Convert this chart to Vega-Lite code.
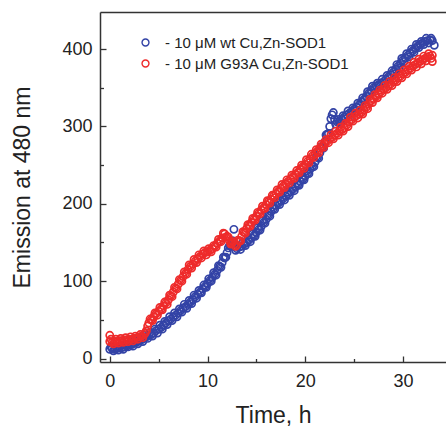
{
  "$schema": "https://vega.github.io/schema/vega-lite/v6.json",
  "autosize": "none",
  "padding": {"left": 100, "top": 12, "right": 0, "bottom": 68},
  "width": 346,
  "height": 350,
  "background": "white",
  "config": {
    "view": {"stroke": null},
    "font": "Liberation Sans",
    "axis": {"domainColor": "#333", "domainWidth": 1.5, "tickColor": "#333", "tickWidth": 1.3, "labelFont": "Liberation Sans", "labelColor": "#222", "titleFont": "Liberation Sans", "titleColor": "#222", "titleFontWeight": "normal", "grid": false}
  },
  "datasets": {
    "pts": [
      {"t":0,"v":12,"s":"wt"},{"t":0.25,"v":13,"s":"wt"},{"t":0.5,"v":12,"s":"wt"},{"t":0.75,"v":13,"s":"wt"},{"t":1,"v":14,"s":"wt"},{"t":1.25,"v":14,"s":"wt"},{"t":1.5,"v":15,"s":"wt"},{"t":1.75,"v":16,"s":"wt"},{"t":2,"v":18,"s":"wt"},{"t":2.25,"v":18,"s":"wt"},{"t":2.5,"v":20,"s":"wt"},{"t":2.75,"v":21,"s":"wt"},{"t":3,"v":23,"s":"wt"},{"t":3.25,"v":24,"s":"wt"},{"t":3.5,"v":26,"s":"wt"},{"t":3.75,"v":28,"s":"wt"},{"t":4,"v":30,"s":"wt"},{"t":4.25,"v":31,"s":"wt"},{"t":4.5,"v":33,"s":"wt"},{"t":4.75,"v":36,"s":"wt"},{"t":5,"v":38,"s":"wt"},{"t":5.25,"v":40,"s":"wt"},{"t":5.5,"v":43,"s":"wt"},{"t":5.75,"v":46,"s":"wt"},{"t":6,"v":49,"s":"wt"},{"t":6.25,"v":51,"s":"wt"},{"t":6.5,"v":54,"s":"wt"},{"t":6.75,"v":56,"s":"wt"},{"t":7,"v":59,"s":"wt"},{"t":7.25,"v":62,"s":"wt"},{"t":7.5,"v":65,"s":"wt"},{"t":7.75,"v":67,"s":"wt"},{"t":8,"v":70,"s":"wt"},{"t":8.25,"v":73,"s":"wt"},{"t":8.5,"v":76,"s":"wt"},{"t":8.75,"v":80,"s":"wt"},{"t":9,"v":83,"s":"wt"},{"t":9.25,"v":86,"s":"wt"},{"t":9.5,"v":90,"s":"wt"},{"t":9.75,"v":93,"s":"wt"},{"t":10,"v":97,"s":"wt"},{"t":10.25,"v":101,"s":"wt"},{"t":10.5,"v":105,"s":"wt"},{"t":10.75,"v":109,"s":"wt"},{"t":11,"v":114,"s":"wt"},{"t":11.25,"v":119,"s":"wt"},{"t":11.5,"v":124,"s":"wt"},{"t":11.75,"v":130,"s":"wt"},{"t":12,"v":137,"s":"wt"},{"t":12.25,"v":146,"s":"wt"},{"t":12.5,"v":152,"s":"wt"},{"t":12.7,"v":167,"s":"wt"},{"t":12.75,"v":145,"s":"wt"},{"t":13,"v":142,"s":"wt"},{"t":13.25,"v":144,"s":"wt"},{"t":13.5,"v":145,"s":"wt"},{"t":13.75,"v":148,"s":"wt"},{"t":14,"v":150,"s":"wt"},{"t":14.25,"v":153,"s":"wt"},{"t":14.5,"v":156,"s":"wt"},{"t":14.75,"v":159,"s":"wt"},{"t":15,"v":163,"s":"wt"},{"t":15.25,"v":167,"s":"wt"},{"t":15.5,"v":171,"s":"wt"},{"t":15.75,"v":176,"s":"wt"},{"t":16,"v":180,"s":"wt"},{"t":16.25,"v":185,"s":"wt"},{"t":16.5,"v":190,"s":"wt"},{"t":16.75,"v":194,"s":"wt"},{"t":17,"v":198,"s":"wt"},{"t":17.25,"v":201,"s":"wt"},{"t":17.5,"v":204,"s":"wt"},{"t":17.75,"v":207,"s":"wt"},{"t":18,"v":210,"s":"wt"},{"t":18.25,"v":213,"s":"wt"},{"t":18.5,"v":216,"s":"wt"},{"t":18.75,"v":219,"s":"wt"},{"t":19,"v":222,"s":"wt"},{"t":19.25,"v":225,"s":"wt"},{"t":19.5,"v":229,"s":"wt"},{"t":19.75,"v":232,"s":"wt"},{"t":20,"v":236,"s":"wt"},{"t":20.25,"v":240,"s":"wt"},{"t":20.5,"v":245,"s":"wt"},{"t":20.75,"v":249,"s":"wt"},{"t":21,"v":254,"s":"wt"},{"t":21.25,"v":260,"s":"wt"},{"t":21.5,"v":266,"s":"wt"},{"t":21.75,"v":273,"s":"wt"},{"t":22,"v":280,"s":"wt"},{"t":22.25,"v":290,"s":"wt"},{"t":22.5,"v":300,"s":"wt"},{"t":22.75,"v":315,"s":"wt"},{"t":23,"v":309,"s":"wt"},{"t":23.25,"v":306,"s":"wt"},{"t":23.5,"v":306,"s":"wt"},{"t":23.75,"v":309,"s":"wt"},{"t":24,"v":312,"s":"wt"},{"t":24.25,"v":315,"s":"wt"},{"t":24.5,"v":317,"s":"wt"},{"t":24.75,"v":319,"s":"wt"},{"t":25,"v":322,"s":"wt"},{"t":25.25,"v":325,"s":"wt"},{"t":25.5,"v":328,"s":"wt"},{"t":25.75,"v":332,"s":"wt"},{"t":26,"v":335,"s":"wt"},{"t":26.25,"v":339,"s":"wt"},{"t":26.5,"v":343,"s":"wt"},{"t":26.75,"v":347,"s":"wt"},{"t":27,"v":350,"s":"wt"},{"t":27.25,"v":352,"s":"wt"},{"t":27.5,"v":354,"s":"wt"},{"t":27.75,"v":356,"s":"wt"},{"t":28,"v":358,"s":"wt"},{"t":28.25,"v":361,"s":"wt"},{"t":28.5,"v":364,"s":"wt"},{"t":28.75,"v":367,"s":"wt"},{"t":29,"v":370,"s":"wt"},{"t":29.25,"v":374,"s":"wt"},{"t":29.5,"v":378,"s":"wt"},{"t":29.75,"v":382,"s":"wt"},{"t":30,"v":386,"s":"wt"},{"t":30.25,"v":389,"s":"wt"},{"t":30.5,"v":392,"s":"wt"},{"t":30.75,"v":395,"s":"wt"},{"t":31,"v":398,"s":"wt"},{"t":31.25,"v":401,"s":"wt"},{"t":31.5,"v":404,"s":"wt"},{"t":31.75,"v":406,"s":"wt"},{"t":32,"v":408,"s":"wt"},{"t":32.25,"v":410,"s":"wt"},{"t":32.5,"v":411,"s":"wt"},{"t":32.75,"v":412,"s":"wt"},{"t":33,"v":411,"s":"wt"},{"t":33.2,"v":405,"s":"wt"},
      {"t":0.125,"v":15,"s":"wt"},{"t":0.375,"v":10,"s":"wt"},{"t":0.625,"v":16,"s":"wt"},{"t":0.875,"v":11,"s":"wt"},{"t":1.125,"v":17,"s":"wt"},{"t":1.375,"v":12,"s":"wt"},{"t":1.625,"v":18,"s":"wt"},{"t":1.875,"v":15,"s":"wt"},{"t":2.125,"v":21,"s":"wt"},{"t":2.375,"v":16,"s":"wt"},{"t":2.625,"v":23,"s":"wt"},{"t":2.875,"v":19,"s":"wt"},{"t":3.125,"v":27,"s":"wt"},{"t":3.375,"v":22,"s":"wt"},{"t":3.625,"v":30,"s":"wt"},{"t":3.875,"v":26,"s":"wt"},{"t":4.125,"v":34,"s":"wt"},{"t":4.375,"v":29,"s":"wt"},{"t":4.625,"v":38,"s":"wt"},{"t":4.875,"v":33,"s":"wt"},{"t":5.125,"v":43,"s":"wt"},{"t":5.375,"v":38,"s":"wt"},{"t":5.625,"v":48,"s":"wt"},{"t":5.875,"v":44,"s":"wt"},{"t":6.125,"v":54,"s":"wt"},{"t":6.375,"v":49,"s":"wt"},{"t":6.625,"v":59,"s":"wt"},{"t":6.875,"v":54,"s":"wt"},{"t":7.125,"v":64,"s":"wt"},{"t":7.375,"v":60,"s":"wt"},{"t":7.625,"v":70,"s":"wt"},{"t":7.875,"v":65,"s":"wt"},{"t":8.125,"v":75,"s":"wt"},{"t":8.375,"v":71,"s":"wt"},{"t":8.625,"v":82,"s":"wt"},{"t":8.875,"v":78,"s":"wt"},{"t":9.125,"v":88,"s":"wt"},{"t":9.375,"v":85,"s":"wt"},{"t":9.625,"v":95,"s":"wt"},{"t":9.875,"v":92,"s":"wt"},{"t":10.125,"v":103,"s":"wt"},{"t":10.375,"v":100,"s":"wt"},{"t":10.625,"v":111,"s":"wt"},{"t":10.875,"v":108,"s":"wt"},{"t":11.125,"v":120,"s":"wt"},{"t":11.375,"v":118,"s":"wt"},{"t":11.625,"v":131,"s":"wt"},{"t":11.875,"v":131,"s":"wt"},{"t":12.125,"v":143,"s":"wt"},{"t":12.375,"v":146,"s":"wt"},{"t":12.625,"v":152,"s":"wt"},{"t":12.875,"v":140,"s":"wt"},{"t":13.125,"v":146,"s":"wt"},{"t":13.375,"v":141,"s":"wt"},{"t":13.625,"v":150,"s":"wt"},{"t":13.875,"v":146,"s":"wt"},{"t":14.125,"v":155,"s":"wt"},{"t":14.375,"v":151,"s":"wt"},{"t":14.625,"v":161,"s":"wt"},{"t":14.875,"v":158,"s":"wt"},{"t":15.125,"v":169,"s":"wt"},{"t":15.375,"v":166,"s":"wt"},{"t":15.625,"v":178,"s":"wt"},{"t":15.875,"v":175,"s":"wt"},{"t":16.125,"v":186,"s":"wt"},{"t":16.375,"v":184,"s":"wt"},{"t":16.625,"v":196,"s":"wt"},{"t":16.875,"v":193,"s":"wt"},{"t":17.125,"v":203,"s":"wt"},{"t":17.375,"v":199,"s":"wt"},{"t":17.625,"v":209,"s":"wt"},{"t":17.875,"v":205,"s":"wt"},{"t":18.125,"v":215,"s":"wt"},{"t":18.375,"v":211,"s":"wt"},{"t":18.625,"v":221,"s":"wt"},{"t":18.875,"v":217,"s":"wt"},{"t":19.125,"v":227,"s":"wt"},{"t":19.375,"v":224,"s":"wt"},{"t":19.625,"v":234,"s":"wt"},{"t":19.875,"v":231,"s":"wt"},{"t":20.125,"v":242,"s":"wt"},{"t":20.375,"v":239,"s":"wt"},{"t":20.625,"v":251,"s":"wt"},{"t":20.875,"v":248,"s":"wt"},{"t":21.125,"v":261,"s":"wt"},{"t":21.375,"v":259,"s":"wt"},{"t":21.625,"v":274,"s":"wt"},{"t":21.875,"v":272,"s":"wt"},{"t":22.125,"v":289,"s":"wt"},{"t":22.375,"v":291,"s":"wt"},{"t":22.625,"v":310,"s":"wt"},{"t":22.875,"v":318,"s":"wt"},{"t":23.125,"v":303,"s":"wt"},{"t":23.375,"v":309,"s":"wt"},{"t":23.625,"v":304,"s":"wt"},{"t":23.875,"v":314,"s":"wt"},{"t":24.125,"v":310,"s":"wt"},{"t":24.375,"v":320,"s":"wt"},{"t":24.625,"v":315,"s":"wt"},{"t":24.875,"v":324,"s":"wt"},{"t":25.125,"v":320,"s":"wt"},{"t":25.375,"v":330,"s":"wt"},{"t":25.625,"v":326,"s":"wt"},{"t":25.875,"v":337,"s":"wt"},{"t":26.125,"v":334,"s":"wt"},{"t":26.375,"v":345,"s":"wt"},{"t":26.625,"v":342,"s":"wt"},{"t":26.875,"v":352,"s":"wt"},{"t":27.125,"v":348,"s":"wt"},{"t":27.375,"v":356,"s":"wt"},{"t":27.625,"v":352,"s":"wt"},{"t":27.875,"v":361,"s":"wt"},{"t":28.125,"v":356,"s":"wt"},{"t":28.375,"v":366,"s":"wt"},{"t":28.625,"v":362,"s":"wt"},{"t":28.875,"v":372,"s":"wt"},{"t":29.125,"v":368,"s":"wt"},{"t":29.375,"v":380,"s":"wt"},{"t":29.625,"v":376,"s":"wt"},{"t":29.875,"v":388,"s":"wt"},{"t":30.125,"v":384,"s":"wt"},{"t":30.375,"v":394,"s":"wt"},{"t":30.625,"v":390,"s":"wt"},{"t":30.875,"v":400,"s":"wt"},{"t":31.125,"v":396,"s":"wt"},{"t":31.375,"v":406,"s":"wt"},{"t":31.625,"v":402,"s":"wt"},{"t":31.875,"v":410,"s":"wt"},{"t":32.125,"v":406,"s":"wt"},{"t":32.375,"v":414,"s":"wt"},{"t":32.625,"v":408,"s":"wt"},{"t":32.875,"v":414,"s":"wt"},
      {"t":0,"v":22,"s":"G93A"},{"t":0,"v":30,"s":"G93A"},{"t":0.25,"v":21,"s":"G93A"},{"t":0.5,"v":22,"s":"G93A"},{"t":0.75,"v":22,"s":"G93A"},{"t":1,"v":23,"s":"G93A"},{"t":1.25,"v":23,"s":"G93A"},{"t":1.5,"v":24,"s":"G93A"},{"t":1.75,"v":24,"s":"G93A"},{"t":2,"v":25,"s":"G93A"},{"t":2.25,"v":25,"s":"G93A"},{"t":2.5,"v":26,"s":"G93A"},{"t":2.75,"v":27,"s":"G93A"},{"t":3,"v":28,"s":"G93A"},{"t":3.25,"v":29,"s":"G93A"},{"t":3.5,"v":31,"s":"G93A"},{"t":3.75,"v":36,"s":"G93A"},{"t":4,"v":46,"s":"G93A"},{"t":4.25,"v":50,"s":"G93A"},{"t":4.5,"v":54,"s":"G93A"},{"t":4.75,"v":58,"s":"G93A"},{"t":5,"v":61,"s":"G93A"},{"t":5.25,"v":64,"s":"G93A"},{"t":5.5,"v":68,"s":"G93A"},{"t":5.75,"v":72,"s":"G93A"},{"t":6,"v":76,"s":"G93A"},{"t":6.25,"v":81,"s":"G93A"},{"t":6.5,"v":86,"s":"G93A"},{"t":6.75,"v":91,"s":"G93A"},{"t":7,"v":96,"s":"G93A"},{"t":7.25,"v":101,"s":"G93A"},{"t":7.5,"v":106,"s":"G93A"},{"t":7.75,"v":110,"s":"G93A"},{"t":8,"v":115,"s":"G93A"},{"t":8.25,"v":119,"s":"G93A"},{"t":8.5,"v":122,"s":"G93A"},{"t":8.75,"v":126,"s":"G93A"},{"t":9,"v":129,"s":"G93A"},{"t":9.25,"v":132,"s":"G93A"},{"t":9.5,"v":135,"s":"G93A"},{"t":9.75,"v":137,"s":"G93A"},{"t":10,"v":138,"s":"G93A"},{"t":10.25,"v":140,"s":"G93A"},{"t":10.5,"v":142,"s":"G93A"},{"t":10.75,"v":145,"s":"G93A"},{"t":11,"v":149,"s":"G93A"},{"t":11.25,"v":152,"s":"G93A"},{"t":11.5,"v":156,"s":"G93A"},{"t":11.75,"v":161,"s":"G93A"},{"t":12,"v":158,"s":"G93A"},{"t":12.25,"v":152,"s":"G93A"},{"t":12.5,"v":149,"s":"G93A"},{"t":12.75,"v":148,"s":"G93A"},{"t":13,"v":147,"s":"G93A"},{"t":13.25,"v":152,"s":"G93A"},{"t":13.5,"v":158,"s":"G93A"},{"t":13.75,"v":163,"s":"G93A"},{"t":14,"v":168,"s":"G93A"},{"t":14.25,"v":172,"s":"G93A"},{"t":14.5,"v":176,"s":"G93A"},{"t":14.75,"v":180,"s":"G93A"},{"t":15,"v":184,"s":"G93A"},{"t":15.25,"v":188,"s":"G93A"},{"t":15.5,"v":192,"s":"G93A"},{"t":15.75,"v":195,"s":"G93A"},{"t":16,"v":199,"s":"G93A"},{"t":16.25,"v":203,"s":"G93A"},{"t":16.5,"v":206,"s":"G93A"},{"t":16.75,"v":210,"s":"G93A"},{"t":17,"v":213,"s":"G93A"},{"t":17.25,"v":216,"s":"G93A"},{"t":17.5,"v":220,"s":"G93A"},{"t":17.75,"v":223,"s":"G93A"},{"t":18,"v":226,"s":"G93A"},{"t":18.25,"v":229,"s":"G93A"},{"t":18.5,"v":232,"s":"G93A"},{"t":18.75,"v":235,"s":"G93A"},{"t":19,"v":238,"s":"G93A"},{"t":19.25,"v":241,"s":"G93A"},{"t":19.5,"v":245,"s":"G93A"},{"t":19.75,"v":248,"s":"G93A"},{"t":20,"v":251,"s":"G93A"},{"t":20.25,"v":255,"s":"G93A"},{"t":20.5,"v":258,"s":"G93A"},{"t":20.75,"v":262,"s":"G93A"},{"t":21,"v":265,"s":"G93A"},{"t":21.25,"v":268,"s":"G93A"},{"t":21.5,"v":272,"s":"G93A"},{"t":21.75,"v":275,"s":"G93A"},{"t":22,"v":278,"s":"G93A"},{"t":22.25,"v":281,"s":"G93A"},{"t":22.5,"v":284,"s":"G93A"},{"t":22.75,"v":286,"s":"G93A"},{"t":23,"v":289,"s":"G93A"},{"t":23.25,"v":291,"s":"G93A"},{"t":23.5,"v":294,"s":"G93A"},{"t":23.75,"v":296,"s":"G93A"},{"t":24,"v":298,"s":"G93A"},{"t":24.25,"v":302,"s":"G93A"},{"t":24.5,"v":306,"s":"G93A"},{"t":24.75,"v":309,"s":"G93A"},{"t":25,"v":312,"s":"G93A"},{"t":25.25,"v":314,"s":"G93A"},{"t":25.5,"v":316,"s":"G93A"},{"t":25.75,"v":318,"s":"G93A"},{"t":26,"v":321,"s":"G93A"},{"t":26.25,"v":325,"s":"G93A"},{"t":26.5,"v":329,"s":"G93A"},{"t":26.75,"v":333,"s":"G93A"},{"t":27,"v":336,"s":"G93A"},{"t":27.25,"v":339,"s":"G93A"},{"t":27.5,"v":342,"s":"G93A"},{"t":27.75,"v":345,"s":"G93A"},{"t":28,"v":348,"s":"G93A"},{"t":28.25,"v":350,"s":"G93A"},{"t":28.5,"v":353,"s":"G93A"},{"t":28.75,"v":355,"s":"G93A"},{"t":29,"v":358,"s":"G93A"},{"t":29.25,"v":360,"s":"G93A"},{"t":29.5,"v":363,"s":"G93A"},{"t":29.75,"v":365,"s":"G93A"},{"t":30,"v":368,"s":"G93A"},{"t":30.25,"v":370,"s":"G93A"},{"t":30.5,"v":373,"s":"G93A"},{"t":30.75,"v":375,"s":"G93A"},{"t":31,"v":378,"s":"G93A"},{"t":31.25,"v":380,"s":"G93A"},{"t":31.5,"v":382,"s":"G93A"},{"t":31.75,"v":384,"s":"G93A"},{"t":32,"v":386,"s":"G93A"},{"t":32.25,"v":388,"s":"G93A"},{"t":32.5,"v":390,"s":"G93A"},{"t":32.75,"v":391,"s":"G93A"},{"t":33,"v":392,"s":"G93A"},{"t":33,"v":384,"s":"G93A"},
      {"t":0.125,"v":25,"s":"G93A"},{"t":0.375,"v":19,"s":"G93A"},{"t":0.625,"v":25,"s":"G93A"},{"t":0.875,"v":20,"s":"G93A"},{"t":1.125,"v":26,"s":"G93A"},{"t":1.375,"v":21,"s":"G93A"},{"t":1.625,"v":27,"s":"G93A"},{"t":1.875,"v":22,"s":"G93A"},{"t":2.125,"v":28,"s":"G93A"},{"t":2.375,"v":23,"s":"G93A"},{"t":2.625,"v":29,"s":"G93A"},{"t":2.875,"v":25,"s":"G93A"},{"t":3.125,"v":31,"s":"G93A"},{"t":3.375,"v":27,"s":"G93A"},{"t":3.625,"v":33,"s":"G93A"},{"t":3.875,"v":42,"s":"G93A"},{"t":4.125,"v":51,"s":"G93A"},{"t":4.375,"v":49,"s":"G93A"},{"t":4.625,"v":59,"s":"G93A"},{"t":4.875,"v":56,"s":"G93A"},{"t":5.125,"v":66,"s":"G93A"},{"t":5.375,"v":63,"s":"G93A"},{"t":5.625,"v":73,"s":"G93A"},{"t":5.875,"v":70,"s":"G93A"},{"t":6.125,"v":82,"s":"G93A"},{"t":6.375,"v":80,"s":"G93A"},{"t":6.625,"v":92,"s":"G93A"},{"t":6.875,"v":90,"s":"G93A"},{"t":7.125,"v":102,"s":"G93A"},{"t":7.375,"v":100,"s":"G93A"},{"t":7.625,"v":112,"s":"G93A"},{"t":7.875,"v":109,"s":"G93A"},{"t":8.125,"v":121,"s":"G93A"},{"t":8.375,"v":117,"s":"G93A"},{"t":8.625,"v":128,"s":"G93A"},{"t":8.875,"v":124,"s":"G93A"},{"t":9.125,"v":134,"s":"G93A"},{"t":9.375,"v":130,"s":"G93A"},{"t":9.625,"v":139,"s":"G93A"},{"t":9.875,"v":134,"s":"G93A"},{"t":10.125,"v":142,"s":"G93A"},{"t":10.375,"v":138,"s":"G93A"},{"t":10.625,"v":146,"s":"G93A"},{"t":10.875,"v":144,"s":"G93A"},{"t":11.125,"v":154,"s":"G93A"},{"t":11.375,"v":151,"s":"G93A"},{"t":11.625,"v":162,"s":"G93A"},{"t":11.875,"v":157,"s":"G93A"},{"t":12.125,"v":157,"s":"G93A"},{"t":12.375,"v":148,"s":"G93A"},{"t":12.625,"v":151,"s":"G93A"},{"t":12.875,"v":145,"s":"G93A"},{"t":13.125,"v":153,"s":"G93A"},{"t":13.375,"v":152,"s":"G93A"},{"t":13.625,"v":164,"s":"G93A"},{"t":13.875,"v":162,"s":"G93A"},{"t":14.125,"v":173,"s":"G93A"},{"t":14.375,"v":171,"s":"G93A"},{"t":14.625,"v":181,"s":"G93A"},{"t":14.875,"v":179,"s":"G93A"},{"t":15.125,"v":189,"s":"G93A"},{"t":15.375,"v":187,"s":"G93A"},{"t":15.625,"v":197,"s":"G93A"},{"t":15.875,"v":194,"s":"G93A"},{"t":16.125,"v":204,"s":"G93A"},{"t":16.375,"v":201,"s":"G93A"},{"t":16.625,"v":211,"s":"G93A"},{"t":16.875,"v":208,"s":"G93A"},{"t":17.125,"v":218,"s":"G93A"},{"t":17.375,"v":215,"s":"G93A"},{"t":17.625,"v":225,"s":"G93A"},{"t":17.875,"v":221,"s":"G93A"},{"t":18.125,"v":231,"s":"G93A"},{"t":18.375,"v":227,"s":"G93A"},{"t":18.625,"v":237,"s":"G93A"},{"t":18.875,"v":233,"s":"G93A"},{"t":19.125,"v":243,"s":"G93A"},{"t":19.375,"v":240,"s":"G93A"},{"t":19.625,"v":250,"s":"G93A"},{"t":19.875,"v":246,"s":"G93A"},{"t":20.125,"v":257,"s":"G93A"},{"t":20.375,"v":253,"s":"G93A"},{"t":20.625,"v":264,"s":"G93A"},{"t":20.875,"v":260,"s":"G93A"},{"t":21.125,"v":270,"s":"G93A"},{"t":21.375,"v":266,"s":"G93A"},{"t":21.625,"v":277,"s":"G93A"},{"t":21.875,"v":273,"s":"G93A"},{"t":22.125,"v":283,"s":"G93A"},{"t":22.375,"v":279,"s":"G93A"},{"t":22.625,"v":289,"s":"G93A"},{"t":22.875,"v":284,"s":"G93A"},{"t":23.125,"v":294,"s":"G93A"},{"t":23.375,"v":289,"s":"G93A"},{"t":23.625,"v":299,"s":"G93A"},{"t":23.875,"v":294,"s":"G93A"},{"t":24.125,"v":304,"s":"G93A"},{"t":24.375,"v":300,"s":"G93A"},{"t":24.625,"v":312,"s":"G93A"},{"t":24.875,"v":307,"s":"G93A"},{"t":25.125,"v":317,"s":"G93A"},{"t":25.375,"v":311,"s":"G93A"},{"t":25.625,"v":321,"s":"G93A"},{"t":25.875,"v":316,"s":"G93A"},{"t":26.125,"v":327,"s":"G93A"},{"t":26.375,"v":323,"s":"G93A"},{"t":26.625,"v":335,"s":"G93A"},{"t":26.875,"v":331,"s":"G93A"},{"t":27.125,"v":341,"s":"G93A"},{"t":27.375,"v":337,"s":"G93A"},{"t":27.625,"v":347,"s":"G93A"},{"t":27.875,"v":343,"s":"G93A"},{"t":28.125,"v":353,"s":"G93A"},{"t":28.375,"v":348,"s":"G93A"},{"t":28.625,"v":358,"s":"G93A"},{"t":28.875,"v":353,"s":"G93A"},{"t":29.125,"v":363,"s":"G93A"},{"t":29.375,"v":358,"s":"G93A"},{"t":29.625,"v":368,"s":"G93A"},{"t":29.875,"v":363,"s":"G93A"},{"t":30.125,"v":373,"s":"G93A"},{"t":30.375,"v":368,"s":"G93A"},{"t":30.625,"v":378,"s":"G93A"},{"t":30.875,"v":373,"s":"G93A"},{"t":31.125,"v":383,"s":"G93A"},{"t":31.375,"v":377,"s":"G93A"},{"t":31.625,"v":387,"s":"G93A"},{"t":31.875,"v":381,"s":"G93A"},{"t":32.125,"v":391,"s":"G93A"},{"t":32.375,"v":385,"s":"G93A"},{"t":32.625,"v":394,"s":"G93A"},{"t":32.875,"v":388,"s":"G93A"}
    ]
  },
  "data": {"name": "pts"},
  "layer": [
    {
      "transform": [{"filter": "datum.s === 'wt'"}],
      "mark": {"type": "point", "filled": false, "size": 52, "strokeWidth": 1.7, "opacity": 1},
      "encoding": {
        "x": {"field": "t", "type": "quantitative", "scale": {"domain": [-1, 34.4], "nice": false, "zero": false},
          "axis": {"orient": "bottom", "title": "Time, h", "titleFontSize": 23, "titlePadding": 14, "labelFontSize": 18, "labelPadding": 16,
            "values": [0, 5, 10, 15, 20, 25, 30], "labelExpr": "datum.value % 10 === 0 ? datum.label : ''",
            "tickSize": {"condition": {"test": "datum.value % 10 === 0", "value": -6}, "value": -3.5}}},
        "y": {"field": "v", "type": "quantitative", "scale": {"domain": [-4.5, 448], "nice": false, "zero": false},
          "axis": {"title": "Emission at 480 nm", "titleFontSize": 23, "titlePadding": 27, "labelFontSize": 18, "labelPadding": 14,
            "values": [0, 50, 100, 150, 200, 250, 300, 350, 400], "labelExpr": "datum.value % 100 === 0 ? datum.label : ''",
            "tickSize": {"condition": {"test": "datum.value % 100 === 0", "value": -6}, "value": -3.5}}},
        "color": {"field": "s", "type": "nominal",
          "scale": {"domain": ["wt", "G93A"], "range": ["#3343A6", "#EE2B2B"]},
          "legend": {"orient": "none", "legendX": 38, "legendY": 23, "title": null, "padding": 0, "labelLimit": 0,
            "labelExpr": "datum.value === 'wt' ? '- 10 μM wt Cu,Zn-SOD1' : '- 10 μM G93A Cu,Zn-SOD1'",
            "labelFont": "Liberation Sans", "labelFontSize": 15, "labelColor": "#222", "labelOffset": 12,
            "symbolSize": 48, "symbolStrokeWidth": 1.4, "rowPadding": 5}}
      }
    },
    {
      "transform": [{"filter": "datum.s === 'G93A'"}],
      "mark": {"type": "point", "filled": false, "size": 52, "strokeWidth": 1.7, "opacity": 1},
      "encoding": {
        "x": {"field": "t", "type": "quantitative",
          "axis": {"orient": "top", "title": null, "labels": false, "ticks": false, "domain": true}},
        "y": {"field": "v", "type": "quantitative"},
        "color": {"field": "s", "type": "nominal"}
      }
    }
  ],
  "resolve": {"axis": {"x": "independent"}}
}
